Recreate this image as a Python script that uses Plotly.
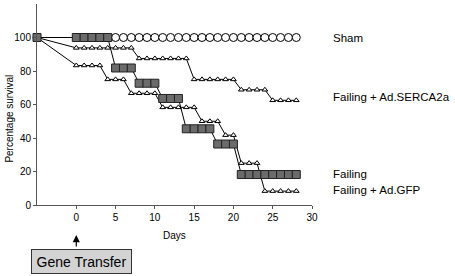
import plotly.graph_objects as go

days = [-5, 0, 1, 2, 3, 4, 5, 6, 7, 8, 9, 10, 11, 12, 13, 14,
        15, 16, 17, 18, 19, 20, 21, 22, 23, 24, 25, 26, 27, 28]

sham = [100, 100, 100, 100, 100, 100, 100, 100, 100, 100, 100, 100, 100, 100, 100,
        100, 100, 100, 100, 100, 100, 100, 100, 100, 100, 100, 100, 100, 100, 100]

failing = [100, 100, 100, 100, 100, 100, 81.8, 81.8, 81.8, 72.7, 72.7, 72.7,
           63.6, 63.6, 63.6, 45.5, 45.5, 45.5, 45.5, 36.4, 36.4, 36.4,
           18.2, 18.2, 18.2, 18.2, 18.2, 18.2, 18.2, 18.2]

serca = [100, 93.8, 93.8, 93.8, 93.8, 93.8, 93.8, 93.8, 93.8,
         87.5, 87.5, 87.5, 87.5, 87.5, 87.5, 87.5,
         75, 75, 75, 75, 75, 75, 68.8, 68.8, 68.8, 68.8,
         62.5, 62.5, 62.5, 62.5]

gfp = [100, 83.3, 83.3, 83.3, 83.3, 75, 75, 75, 66.7, 66.7, 66.7, 66.7,
       58.3, 58.3, 58.3, 58.3, 58.3, 50, 50, 50, 41.7, 41.7,
       25, 25, 25, 8.3, 8.3, 8.3, 8.3, 8.3]

x_ticks = [0, 5, 10, 15, 20, 25, 30]
y_ticks = [0, 20, 40, 60, 80, 100]

series_labels = ["Sham", "Failing + Ad.SERCA2a", "Failing", "Failing + Ad.GFP"]
label_y = [100, 64.5, 18.5, 9]

FONT = "Liberation Sans, Arial, sans-serif"

fig = go.Figure()

fig.add_trace(go.Scatter(
    x=days, y=sham, mode="lines+markers", cliponaxis=False,
    line=dict(color="black", width=1),
    marker=dict(symbol="circle", size=8, color="white", line=dict(color="black", width=1)),
))
fig.add_trace(go.Scatter(
    x=days, y=serca, mode="lines+markers", cliponaxis=False,
    line=dict(color="black", width=1),
    marker=dict(symbol="triangle-up", size=5, color="white", line=dict(color="black", width=1)),
))
fig.add_trace(go.Scatter(
    x=days, y=gfp, mode="lines+markers", cliponaxis=False,
    line=dict(color="black", width=1),
    marker=dict(symbol="triangle-up", size=5, color="white", line=dict(color="black", width=1)),
))
fig.add_trace(go.Scatter(
    x=days, y=failing, mode="lines+markers", cliponaxis=False,
    line=dict(color="black", width=1),
    marker=dict(symbol="square", size=8, color="#6b6b6b", line=dict(color="#222222", width=1)),
))

annotations = []
for txt, yv in zip(series_labels, label_y):
    annotations.append(dict(
        x=1.07, y=yv, xref="paper", yref="y", text=txt, showarrow=False,
        xanchor="left", yanchor="middle", font=dict(family=FONT, size=11.5, color="black"),
    ))

annotations.append(dict(
    x=12.5, y=-0.154, xref="x", yref="paper", text="Days", showarrow=False,
    xanchor="center", yanchor="middle", font=dict(family=FONT, size=10, color="black"),
))
annotations.append(dict(
    x=-0.098, y=0.43, xref="paper", yref="paper", text="Percentage survival", showarrow=False,
    textangle=-90, xanchor="center", yanchor="middle", font=dict(family=FONT, size=10, color="black"),
))
annotations.append(dict(
    x=0, y=-0.149, xref="x", yref="paper", text="", showarrow=True,
    ax=0, ay=13, arrowhead=2, arrowsize=1.2, arrowwidth=1.2, arrowcolor="black",
))
annotations.append(dict(
    x=0.162, y=-0.281, xref="paper", yref="paper", text="Gene Transfer", showarrow=False,
    xanchor="center", yanchor="middle", font=dict(family=FONT, size=14, color="black"),
    width=93, height=17,
    bgcolor="#d3d3d3", bordercolor="#333333", borderwidth=1, borderpad=3,
))

fig.update_layout(
    width=455, height=276,
    margin=dict(l=37, r=143, t=4, b=71),
    plot_bgcolor="white", paper_bgcolor="white",
    showlegend=False,
    font=dict(family=FONT, size=10, color="black"),
    annotations=annotations,
)
fig.update_xaxes(
    range=[-5, 30], tickvals=x_ticks, ticks="outside", ticklen=3, tickcolor="#555",
    showline=True, linecolor="#555", linewidth=1, showgrid=False, zeroline=False,
    tickfont=dict(family=FONT, size=10, color="black"),
)
fig.update_yaxes(
    range=[0, 120], tickvals=y_ticks, ticks="outside", ticklen=3, tickcolor="#555",
    showline=True, linecolor="#555", linewidth=1, showgrid=False, zeroline=False,
    tickfont=dict(family=FONT, size=10, color="black"),
)

fig.write_html("out.html", config={"displayModeBar": False},
               post_script="document.body.style.margin='0';")
